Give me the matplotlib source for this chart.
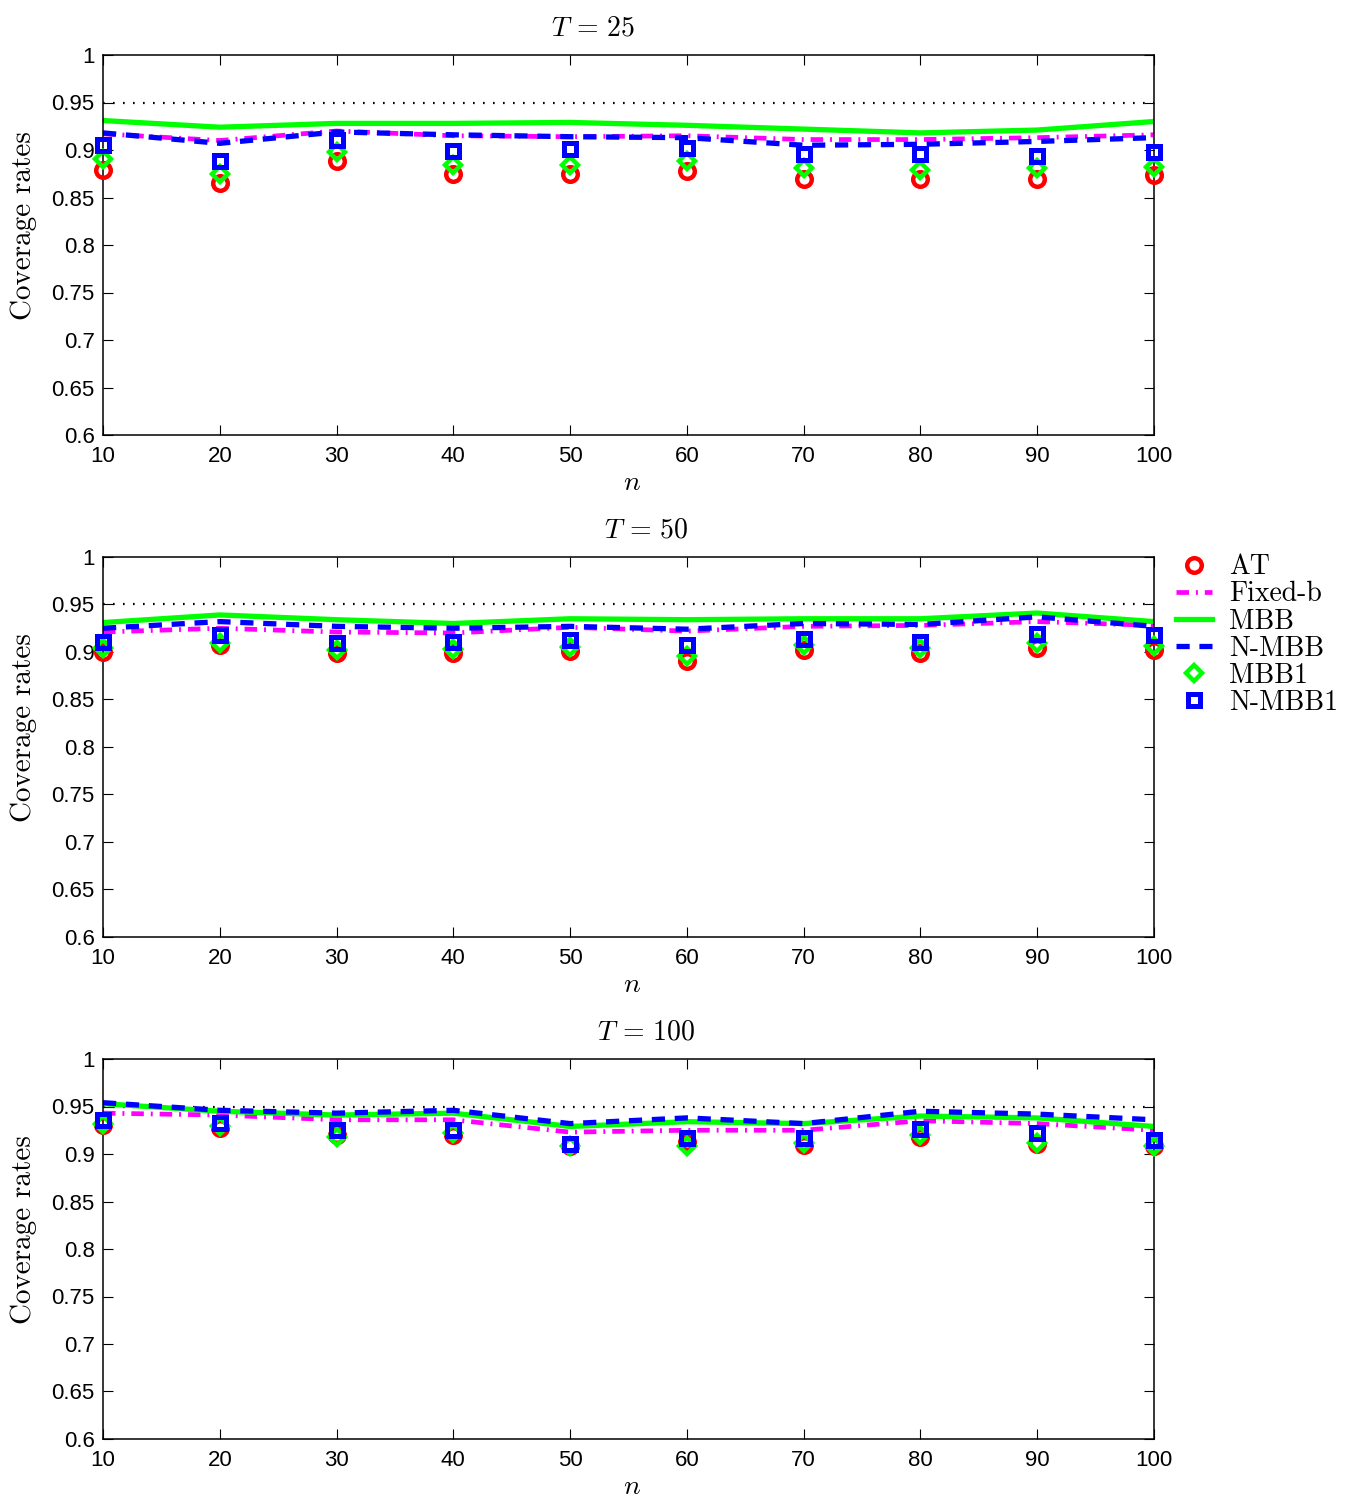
import numpy as np
import matplotlib
matplotlib.use("Agg")
import matplotlib.pyplot as plt

plt.rcParams["mathtext.fontset"] = "cm"
plt.rcParams["lines.scale_dashes"] = False

# =========================================================
# DATA (coverage rates)
# =========================================================

n_vals = [10, 20, 30, 40, 50, 60, 70, 80, 90, 100]
panel_T = [25, 50, 100]

at_25    = [0.879, 0.865, 0.888, 0.875, 0.875, 0.878, 0.870, 0.869, 0.869, 0.874]
fixb_25  = [0.917, 0.910, 0.920, 0.915, 0.914, 0.915, 0.911, 0.911, 0.913, 0.916]
mbb_25   = [0.931, 0.924, 0.928, 0.928, 0.929, 0.926, 0.922, 0.918, 0.921, 0.930]
nmbb_25  = [0.918, 0.907, 0.919, 0.916, 0.914, 0.913, 0.905, 0.906, 0.909, 0.913]
mbb1_25  = [0.891, 0.875, 0.898, 0.884, 0.884, 0.888, 0.881, 0.879, 0.881, 0.882]
nmbb1_25 = [0.905, 0.888, 0.911, 0.899, 0.901, 0.902, 0.896, 0.896, 0.894, 0.898]

at_50    = [0.900, 0.907, 0.899, 0.899, 0.901, 0.891, 0.902, 0.899, 0.904, 0.902]
fixb_50  = [0.921, 0.925, 0.921, 0.920, 0.926, 0.922, 0.927, 0.928, 0.932, 0.928]
mbb_50   = [0.931, 0.939, 0.934, 0.930, 0.935, 0.934, 0.935, 0.935, 0.941, 0.932]
nmbb_50  = [0.925, 0.932, 0.927, 0.925, 0.927, 0.924, 0.930, 0.929, 0.937, 0.927]
mbb1_50  = [0.904, 0.909, 0.902, 0.903, 0.905, 0.896, 0.907, 0.904, 0.909, 0.906]
nmbb1_50 = [0.911, 0.918, 0.909, 0.910, 0.913, 0.907, 0.914, 0.911, 0.919, 0.918]

at_100    = [0.931, 0.927, 0.920, 0.920, 0.908, 0.913, 0.909, 0.918, 0.911, 0.908]
fixb_100  = [0.943, 0.941, 0.936, 0.936, 0.923, 0.925, 0.925, 0.935, 0.932, 0.925]
mbb_100   = [0.953, 0.945, 0.941, 0.943, 0.929, 0.934, 0.932, 0.940, 0.938, 0.929]
nmbb_100  = [0.954, 0.946, 0.943, 0.946, 0.932, 0.938, 0.932, 0.945, 0.942, 0.936]
mbb1_100  = [0.932, 0.929, 0.918, 0.922, 0.908, 0.908, 0.912, 0.920, 0.912, 0.908]
nmbb1_100 = [0.936, 0.933, 0.925, 0.925, 0.911, 0.917, 0.917, 0.926, 0.922, 0.915]

nominal = 0.95
y_ticks = [0.6, 0.65, 0.7, 0.75, 0.8, 0.85, 0.9, 0.95, 1.0]
y_tick_labels = ["0.6", "0.65", "0.7", "0.75", "0.8", "0.85", "0.9", "0.95", "1"]
legend_labels = ["AT", "Fixed-b", "MBB", "N-MBB", "MBB1", "N-MBB1"]

panels = [
    (at_25, fixb_25, mbb_25, nmbb_25, mbb1_25, nmbb1_25),
    (at_50, fixb_50, mbb_50, nmbb_50, mbb1_50, nmbb1_50),
    (at_100, fixb_100, mbb_100, nmbb_100, mbb1_100, nmbb1_100),
]

# =========================================================
# PLOT
# =========================================================

W, H = 1348, 1498
fig = plt.figure(figsize=(W / 100, H / 100), dpi=100)

ax_left, ax_right = 103, 1154
ax_tops = [55, 557, 1059]
ax_h = 380
title_x = [0.466, 0.517, 0.517]

TICK_FONT = "Liberation Sans"
SERIF = "cmr10"

handles = None
for i, (T, series) in enumerate(zip(panel_T, panels)):
    at, fixb, mbb, nmbb, mbb1, nmbb1 = series
    ax = fig.add_axes([ax_left / W, 1 - (ax_tops[i] + ax_h) / H,
                       (ax_right - ax_left) / W, ax_h / H])

    ax.plot(n_vals, [nominal] * len(n_vals), color="black", lw=1.6,
            dashes=(1.2, 6.0), zorder=1)

    h_at, = ax.plot(n_vals, at, ls="none", marker="o", ms=10.5, mfc="none",
                    mec="#ff0000", mew=3.2, clip_on=False, zorder=3)
    h_fb, = ax.plot(n_vals, fixb, color="#ff00ff", lw=3.4,
                    dashes=(9.0, 5.0, 1.4, 5.0), zorder=2)
    h_mbb, = ax.plot(n_vals, mbb, color="#00ff00", lw=3.8, zorder=2)
    h_nmbb, = ax.plot(n_vals, nmbb, color="#0000ff", lw=3.8,
                      dashes=(9.5, 7.0), zorder=2)
    h_mbb1, = ax.plot(n_vals, mbb1, ls="none", marker="D", ms=7.8, mfc="none",
                      mec="#00ff00", mew=3.2, clip_on=False, zorder=4)
    h_nmbb1, = ax.plot(n_vals, nmbb1, ls="none", marker="s", ms=8.5, mfc="none",
                       mec="#0000ff", mew=3.6, clip_on=False, zorder=5)
    if handles is None:
        handles = [h_at, h_fb, h_mbb, h_nmbb, h_mbb1, h_nmbb1]

    ax.set_xlim(10, 100)
    ax.set_ylim(0.6, 1.0)
    ax.set_xticks(n_vals)
    ax.set_xticklabels([str(v) for v in n_vals], fontfamily=TICK_FONT, fontsize=16)
    ax.set_yticks(y_ticks)
    ax.set_yticklabels(y_tick_labels, fontfamily=TICK_FONT, fontsize=16)
    ax.tick_params(direction="in", length=7, width=0.8, top=True, right=True,
                   colors="black")
    ax.tick_params(axis="x", pad=8)
    ax.tick_params(axis="y", pad=6)
    for sp in ax.spines.values():
        sp.set_linewidth(1.1)

    ax.set_title(rf"$T\,=\,{T}$", fontsize=20, x=title_x[i], pad=14)
    ax.set_ylabel("Coverage rates", fontfamily=SERIF, fontsize=21)
    ax.yaxis.set_label_coords(-0.075, 0.55)
    ax.yaxis.label.set_va("center")
    ax.set_xlabel(r"$n$", fontsize=20)
    ax.xaxis.set_label_coords(0.503, -0.124)
    ax.xaxis.label.set_va("center")

fig.legend(handles, legend_labels, loc="upper left",
           bbox_to_anchor=(1176 / W, 1 - 554 / H), frameon=False,
           prop={"family": SERIF, "size": 20}, handlelength=1.3,
           handletextpad=0.6, labelspacing=0.03, borderaxespad=0,
           borderpad=0)

fig.savefig("out.png", dpi=100)
